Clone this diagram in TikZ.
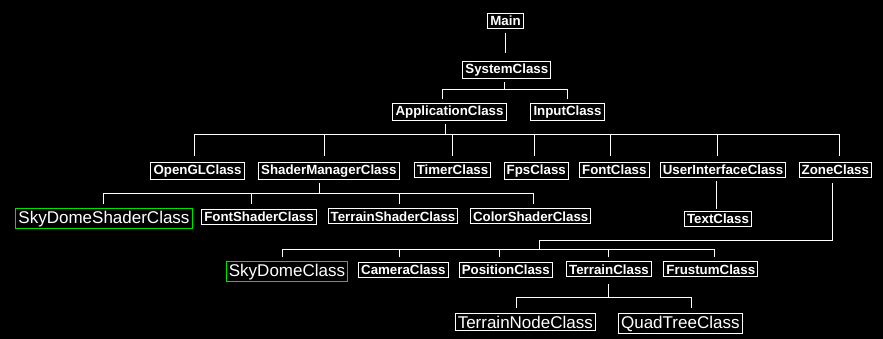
\documentclass[tikz,border=0pt]{standalone}
\usepackage{fontspec}
\setmainfont{Liberation Sans}
\usetikzlibrary{calc}
\definecolor{boxgreen}{RGB}{0,225,0}
\begin{document}
\begin{tikzpicture}[x=1pt,y=-1pt,
  cls/.style={draw=white,text=white,line width=1pt,anchor=north,inner xsep=2.6pt,inner ysep=2.6pt,
    font=\bfseries\fontsize{13.3}{15}\selectfont},
  big/.style={draw=white,text=white,line width=1pt,anchor=north,inner xsep=2.6pt,inner ysep=2pt,
    font=\fontsize{17}{20}\selectfont},
  hl/.style={big,draw=boxgreen},
  wire/.style={draw=white,line width=1pt}]
\fill[black] (0,0) rectangle (883,339);
\useasboundingbox (0,0) rectangle (883,339);
% nodes
\node[cls] (main) at (505.5,13) {Main};
\node[cls] (sys) at (506.8,60.7) {SystemClass};
\node[cls] (app) at (449.5,102.7) {ApplicationClass};
\node[cls] (inp) at (567.5,102.7) {InputClass};
\node[cls] (ogl) at (197.5,161.7) {OpenGLClass};
\node[cls] (shm) at (328.8,161.7) {ShaderManagerClass};
\node[cls] (tim) at (452.5,161.7) {TimerClass};
\node[cls] (fps) at (536.3,161.7) {FpsClass};
\node[cls] (fnt) at (614.3,161.7) {FontClass};
\node[cls] (ui) at (723,161.7) {UserInterfaceClass};
\node[cls] (zone) at (835.3,161.7) {ZoneClass};
\node[hl] (sds) at (104,208.3) {SkyDomeShaderClass};
\node[cls] (fss) at (259,208.6) {FontShaderClass};
\node[cls] (tss) at (393,208.3) {TerrainShaderClass};
\node[cls] (css) at (530.7,208.3) {ColorShaderClass};
\node[cls] (txt) at (718,211) {TextClass};
\node[hl] (sky) at (287,261.3) {SkyDomeClass};
\node[cls] (cam) at (403.3,261.7) {CameraClass};
\node[cls] (pos) at (505.8,261.7) {PositionClass};
\node[cls] (ter) at (609,261.3) {TerrainClass};
\node[cls] (fru) at (710.8,261.3) {FrustumClass};
\node[big] (tnc) at (525.3,313.3) {TerrainNodeClass};
\node[big] (qtc) at (680.3,313.3) {QuadTreeClass};
% junctions
\coordinate (j1) at (504.3,89.3);
\coordinate (j2) at (445,135);
\coordinate (j3) at (319.3,194);
\coordinate (j5a) at (539.3,240);
\coordinate (j5) at (539.3,249.3);
\coordinate (j6) at (608.3,297.3);
% connectors
\draw[wire] (main.south) ++(0,3.7) -- ($(main.south |- sys.north)+(0,-7.7)$);
\draw[wire] (j1 |- sys.south) ++(0,3) -- (j1);
\draw[wire] (app.north) ++(-7.2,-3.4) |- (j1);
\draw[wire] (inp.north) ++(0,-3.4) |- (j1);
\draw[wire] (j2 |- app.south) ++(0,3) -- (j2);
\draw[wire] (ogl.north) ++(-3.2,-6) |- (j2);
\draw[wire] (shm.north) ++(-4.5,-6) |- (j2);
\draw[wire] (tim.north) ++(0,-6) |- (j2);
\draw[wire] (fps.north) ++(-2,-6) |- (j2);
\draw[wire] (fnt.north) ++(-3.6,-6) |- (j2);
\draw[wire] (ui.north) ++(-5.3,-6) |- (j2);
\draw[wire] (zone.north) ++(4,-6) |- (j2);
\draw[wire] (j3 |- shm.south) ++(0,3) -- (j3);
\draw[wire] (sds.north) ++(-0.7,-4) |- (j3);
\draw[wire] (fss.north) ++(-8,-4.3) |- (j3);
\draw[wire] (tss.north) ++(6.3,-4) |- (j3);
\draw[wire] (css.north) ++(2.6,-4) |- (j3);
\draw[wire] (txt.north) ++(-2,-2) coordinate (t1) -- ($(t1 |- ui.south)+(0,3.3)$);
\draw[wire] (zone.south) ++(-3,5.6) |- (j5a) -- (j5);
\draw[wire] (sky.north) ++(-4.7,-4) |- (j5);
\draw[wire] (cam.north) ++(-4,-4.4) |- (j5);
\draw[wire] (pos.north) ++(-6.5,-4.4) |- (j5);
\draw[wire] (ter.north) ++(-0.7,-4) |- (j5);
\draw[wire] (fru.north) ++(3.5,-4) |- (j5);
\draw[wire] (j6 |- ter.south) ++(0,7) -- (j6);
\draw[wire] (tnc.north) ++(-9.3,-5) |- (j6);
\draw[wire] (qtc.north) ++(11.4,-5) |- (j6);
\end{tikzpicture}
\end{document}
